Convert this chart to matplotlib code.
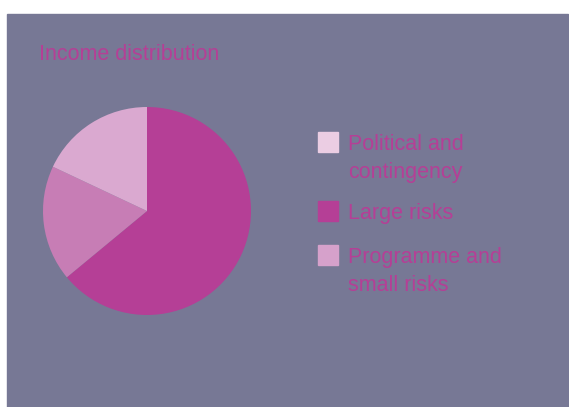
import matplotlib
matplotlib.use("Agg")
import matplotlib.pyplot as plt
from matplotlib.patches import Rectangle

plt.rcParams['font.family'] = ['Liberation Sans Narrow', 'Liberation Sans', 'DejaVu Sans']

# income shares (%) in drawing order, clockwise from 12 o'clock
slice_names = ["Large risks", "Programme and small risks", "Political and contingency"]
slice_shares = [64, 18, 18]
slice_colors = ["#b53f96", "#c77db5", "#daa9d0"]

# legend entries, top to bottom
legend_labels = ["Political and\ncontingency", "Large risks", "Programme and\nsmall risks"]
legend_colors = ["#ebcde3", "#b53f96", "#d6a1cb"]

title = "Income distribution"
bg = "#777895"
text_col = "#b53f96"
fs = 15.5

W, H = 569, 407
fig = plt.figure(figsize=(W / 100, H / 100), dpi=100)
fig.patch.set_facecolor("white")

def fx(px):
    return px / W

def fy(py):
    return 1 - py / H

# grey panel behind everything
fig.patches.append(Rectangle((fx(7), 0), fx(568) - fx(7), fy(14),
                             transform=fig.transFigure, color=bg, zorder=-5))

fig.text(fx(39), fy(60), title, color=text_col, fontsize=fs, va="baseline", ha="left")

# pie
cx, cy, r = 147, 211, 104
ax = fig.add_axes([fx(cx - r), fy(cy + r), fx(2 * r), (2 * r) / H])
ax.set_zorder(2)
ax.pie(slice_shares, colors=slice_colors, startangle=90, counterclock=False,
       radius=1, wedgeprops=dict(linewidth=0))
ax.set_xlim(-1, 1)
ax.set_ylim(-1, 1)
ax.set_axis_off()

# legend
box_tops = [132, 201, 245]
baselines = [150, 219, 263]
for lab, col, top, base in zip(legend_labels, legend_colors, box_tops, baselines):
    fig.patches.append(Rectangle((fx(318), fy(top + 20)), fx(20), 20 / H,
                                 transform=fig.transFigure, color=col, zorder=1))
    for i, line in enumerate(lab.split("\n")):
        fig.text(fx(348), fy(base + 28 * i), line, color=text_col, fontsize=fs,
                 va="baseline", ha="left")

fig.savefig("out.png", dpi=100, facecolor=fig.get_facecolor())
